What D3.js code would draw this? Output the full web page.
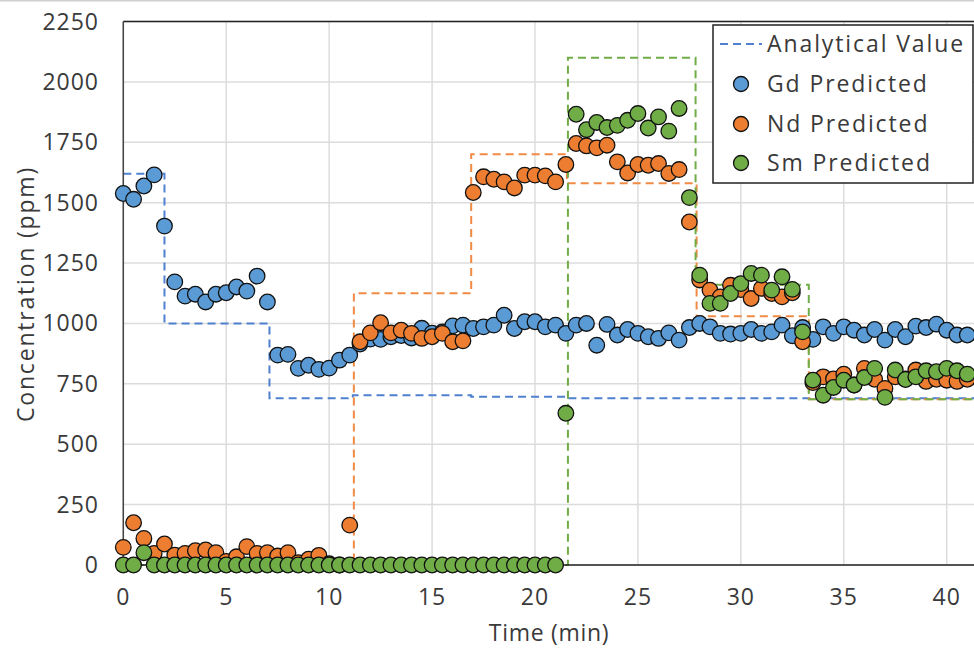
<!DOCTYPE html>
<html>
<head>
<meta charset="utf-8">
<script src="https://cdn.jsdelivr.net/npm/d3@7"></script>
<style>
    body { margin: 0; background: #ffffff; }
</style>
</head>
<body>
<script>
// #region DATA
var times = [0, 0.5, 1, 1.5, 2, 2.5, 3, 3.5, 4, 4.5, 5, 5.5, 6, 6.5, 7, 7.5, 8, 8.5, 9, 9.5,
    10, 10.5, 11, 11.5, 12, 12.5, 13, 13.5, 14, 14.5, 15, 15.5, 16, 16.5, 17, 17.5, 18, 18.5, 19, 19.5,
    20, 20.5, 21, 21.5, 22, 22.5, 23, 23.5, 24, 24.5, 25, 25.5, 26, 26.5, 27, 27.5, 28, 28.5, 29, 29.5,
    30, 30.5, 31, 31.5, 32, 32.5, 33, 33.5, 34, 34.5, 35, 35.5, 36, 36.5, 37, 37.5, 38, 38.5, 39, 39.5,
    40, 40.5, 41];

var gdValues = [1538, 1514, 1569, 1615, 1403, 1172, 1113, 1121, 1089, 1121, 1127, 1151, 1134, 1196, 1089, 869, 872, 814, 827, 810,
    815, 848, 869, 915, 935, 934, 945, 950, 940, 980, 960, 965, 990, 993, 979, 986, 993, 1034, 979, 1007,
    1007, 986, 993, 959, 993, 1000, 910, 996, 952, 975, 959, 945, 938, 961, 931, 983, 1000, 986, 959, 956,
    959, 975, 959, 965, 993, 949, 983, 934, 986, 959, 986, 972, 952, 975, 931, 975, 945, 989, 983, 997,
    972, 952, 952];

var ndValues = [73, 175, 110, 48, 87, 41, 48, 59, 62, 51, 15, 34, 76, 48, 51, 37, 51, 10, 24, 40,
    5, 0, 165, 924, 961, 1003, 961, 972, 959, 938, 945, 959, 924, 928, 1542, 1607, 1597, 1586, 1561, 1614,
    1614, 1611, 1586, 1658, 1745, 1735, 1727, 1738, 1669, 1623, 1658, 1655, 1662, 1621, 1637, 1420, 1180, 1138, 1110, 1158,
    1140, 1103, 1145, 1124, 1110, 1127, 924, 755, 779, 770, 790, 745, 814, 769, 731, 779, 770, 807, 760, 769,
    765, 760, 769];

var smValues = [0, 0, 51, 0, 0, 0, 0, 0, 0, 0, 0, 0, 0, 0, 0, 0, 0, 0, 0, 0,
    0, 0, 0, 0, 0, 0, 0, 0, 0, 0, 0, 0, 0, 0, 0, 0, 0, 0, 0, 0,
    0, 0, 0, 628, 1866, 1802, 1832, 1811, 1820, 1841, 1869, 1809, 1855, 1796, 1890, 1521, 1200, 1083, 1083, 1124,
    1165, 1207, 1200, 1138, 1193, 1141, 965, 765, 703, 735, 765, 745, 776, 814, 694, 807, 768, 779, 804, 800,
    814, 804, 790];

// analytical (reference) values, stepped
var gdStepTimes = [0, 2, 7.1, 11.15, 16.9, 21.55, 42];
var gdStepValues = [1620, 1000, 690, 703, 697, 690, 690];
var ndStepTimes = [0, 11.2, 16.9, 21.55, 27.85, 33.3, 42];
var ndStepValues = [0, 1125, 1700, 1580, 1030, 686, 686];
var smStepTimes = [0, 21.6, 27.8, 33.3, 42];
var smStepValues = [0, 2100, 1160, 686, 686];

var xTicks = [0, 5, 10, 15, 20, 25, 30, 35, 40];
var yTicks = [0, 250, 500, 750, 1000, 1250, 1500, 1750, 2000, 2250];

var legendLabels = ["Analytical Value", "Gd Predicted", "Nd Predicted", "Sm Predicted"];
// #endregion

// #region SETUP
var width = 974,
    height = 648;

var font = "'Open Sans', sans-serif";
var textColor = "#3a3a3a";

var colors = {gd: "#5b9bd5", nd: "#ed7d31", sm: "#70ad47"};
var lineColors = {gd: "#4f81d0", nd: "#f08a45", sm: "#70ad47"};

var svg = d3.select("body")
    .append("svg")
    .attr("width", width)
    .attr("height", height)
    .style("display", "block")
    .style("font-family", font);

var x = d3.scaleLinear()
    .domain([0, 40])
    .range([123.3, 946.7]);

var y = d3.scaleLinear()
    .domain([0, 2250])
    .range([565, 21.5]);

var plotLeft = x(0),
    plotRight = width + 20,
    plotTop = y(2250),
    plotBottom = y(0);

// thin grey line at the very top of the screenshot
svg.append("line")
    .attr("x1", 0).attr("x2", width)
    .attr("y1", 0.75).attr("y2", 0.75)
    .style("stroke", "#cfcfcf")
    .style("stroke-width", 1.5);
// #endregion

// #region GRID
var grid = svg.append("g").attr("id", "grid");

grid.selectAll(".hgrid")
    .data(yTicks)
    .enter()
    .append("line")
        .attr("class", "hgrid")
        .attr("x1", plotLeft)
        .attr("x2", plotRight)
        .attr("y1", d => y(d))
        .attr("y2", d => y(d))
        .style("stroke", "#dcdcdc")
        .style("stroke-width", 1.5);

grid.selectAll(".vgrid")
    .data(xTicks)
    .enter()
    .append("line")
        .attr("class", "vgrid")
        .attr("x1", d => x(d))
        .attr("x2", d => x(d))
        .attr("y1", plotTop)
        .attr("y2", plotBottom)
        .style("stroke", "#dcdcdc")
        .style("stroke-width", 1.5);
// #endregion

// #region STEP LINES
var stepLine = d3.line()
    .curve(d3.curveStepAfter)
    .x(d => x(d[0]))
    .y(d => y(d[1]));

var steps = [
    {key: "gd", data: d3.zip(gdStepTimes, gdStepValues)},
    {key: "nd", data: d3.zip(ndStepTimes, ndStepValues)},
    {key: "sm", data: d3.zip(smStepTimes, smStepValues)}
];

svg.append("g")
    .attr("id", "steps")
    .selectAll("path")
    .data(steps)
    .enter()
    .append("path")
        .attr("d", d => stepLine(d.data))
        .style("fill", "none")
        .style("stroke", d => lineColors[d.key])
        .style("stroke-width", 2)
        .style("stroke-dasharray", "8,5");
// #endregion

// #region AXES
var axes = svg.append("g").attr("id", "axes");

axes.append("line")
    .attr("x1", plotLeft).attr("x2", plotRight)
    .attr("y1", plotTop).attr("y2", plotTop)
    .style("stroke", "#222")
    .style("stroke-width", 1.6);

axes.append("line")
    .attr("x1", plotLeft).attr("x2", plotLeft)
    .attr("y1", plotTop).attr("y2", plotBottom)
    .style("stroke", "#444")
    .style("stroke-width", 1.5);

axes.append("line")
    .attr("x1", plotLeft).attr("x2", plotRight)
    .attr("y1", plotBottom).attr("y2", plotBottom)
    .style("stroke", "#222")
    .style("stroke-width", 1.6);

axes.selectAll(".ylab")
    .data(yTicks)
    .enter()
    .append("text")
        .attr("class", "ylab")
        .text(d => d)
        .attr("x", 99)
        .attr("y", d => y(d))
        .attr("dy", "0.35em")
        .attr("text-anchor", "end")
        .attr("fill", textColor)
        .style("font-size", "23px")
        .style("letter-spacing", "1px");

axes.selectAll(".xlab")
    .data(xTicks)
    .enter()
    .append("text")
        .attr("class", "xlab")
        .text(d => d)
        .attr("x", d => x(d))
        .attr("y", 597)
        .attr("dy", "0.35em")
        .attr("text-anchor", "middle")
        .attr("fill", textColor)
        .style("font-size", "23px")
        .style("letter-spacing", "1px");

axes.append("text")
    .text("Time (min)")
    .attr("x", 549)
    .attr("y", 633)
    .attr("dy", "0.35em")
    .attr("text-anchor", "middle")
    .attr("fill", textColor)
    .style("font-size", "23px")
    .style("letter-spacing", "0.7px");

axes.append("text")
    .text("Concentration (ppm)")
    .attr("transform", "translate(26,294) rotate(-90)")
    .attr("dy", "0.35em")
    .attr("text-anchor", "middle")
    .attr("fill", textColor)
    .style("font-size", "23px")
    .style("letter-spacing", "1.8px");
// #endregion

// #region POINTS
var series = [
    {key: "gd", values: gdValues},
    {key: "nd", values: ndValues},
    {key: "sm", values: smValues}
];

var points = svg.append("g").attr("id", "points");

series.forEach(function(s) {
    points.append("g")
        .attr("id", "pts-" + s.key)
        .selectAll("circle")
        .data(d3.zip(times, s.values))
        .enter()
        .append("circle")
            .attr("cx", d => x(d[0]))
            .attr("cy", d => y(d[1]))
            .attr("r", 7.8)
            .style("fill", colors[s.key])
            .style("stroke", "#111")
            .style("stroke-width", 1.3);
});
// #endregion

// #region LEGEND
var legend = svg.append("g").attr("id", "legend");

legend.append("rect")
    .attr("x", 713)
    .attr("y", 25)
    .attr("width", 260)
    .attr("height", 158)
    .style("fill", "#ffffff")
    .style("stroke", "#222")
    .style("stroke-width", 1.5);

var legendRows = [44, 84, 124, 163];

legend.append("line")
    .attr("x1", 720).attr("x2", 762)
    .attr("y1", legendRows[0]).attr("y2", legendRows[0])
    .style("stroke", lineColors.gd)
    .style("stroke-width", 2)
    .style("stroke-dasharray", "8,5");

legend.selectAll("circle")
    .data(["gd", "nd", "sm"])
    .enter()
    .append("circle")
        .attr("cx", 741)
        .attr("cy", (d, i) => legendRows[i + 1])
        .attr("r", 7.5)
        .style("fill", d => colors[d])
        .style("stroke", "#111")
        .style("stroke-width", 1.3);

legend.selectAll("text")
    .data(legendLabels)
    .enter()
    .append("text")
        .text(d => d)
        .attr("x", 767)
        .attr("y", (d, i) => legendRows[i])
        .attr("dy", "0.35em")
        .attr("fill", textColor)
        .style("font-size", "23px")
        .style("letter-spacing", "1.9px");
// #endregion
</script>
</body>
</html>
